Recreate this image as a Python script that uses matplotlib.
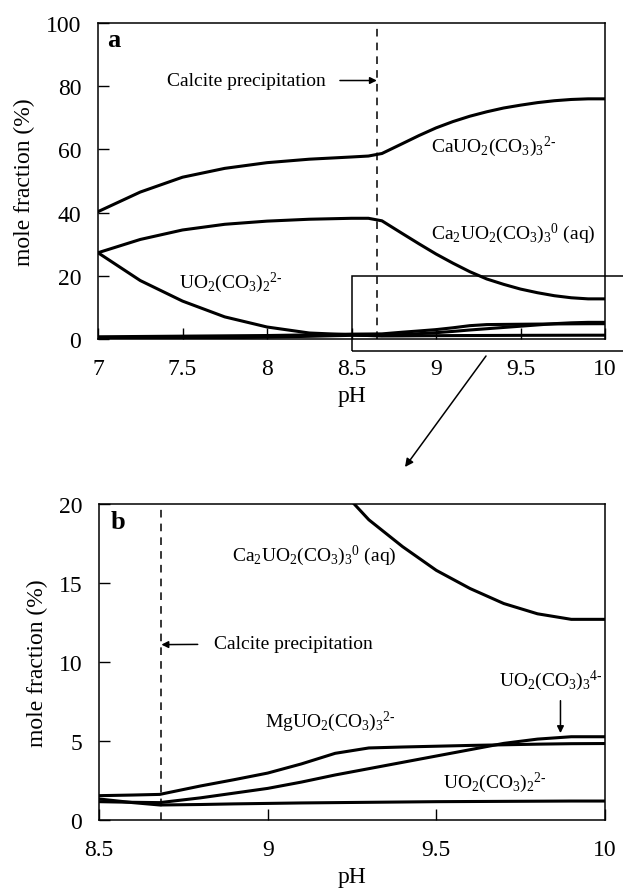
"""
Uranyl carbonate speciation vs pH, two panels:
(a) full 0-100 % view, (b) zoom on the low-fraction species 8.5-10.
"""
import numpy as np
import matplotlib
matplotlib.use("Agg")
import matplotlib.pyplot as plt
from matplotlib.patches import Rectangle

# ---- data ----
ph = [7.0, 7.25, 7.5, 7.75, 8.0, 8.25, 8.5, 8.6, 8.68, 8.8, 8.9,
      9.0, 9.1, 9.2, 9.3, 9.4, 9.5, 9.6, 9.7, 9.8, 9.9, 10.0]
ca_uo2 = [40.3, 46.5, 51.2, 54.0, 55.8, 56.9, 57.6, 57.9, 58.7, 61.8, 64.4,
          66.8, 68.8, 70.5, 71.9, 73.1, 74.0, 74.8, 75.4, 75.8, 76.0, 76.0]
ca2_uo2 = [27.3, 31.5, 34.5, 36.3, 37.3, 37.9, 38.2, 38.2, 37.4, 33.4, 30.1,
           26.9, 24.0, 21.3, 19.0, 17.3, 15.8, 14.65, 13.7, 13.05, 12.7, 12.7]
uo2_co3_2 = [27.3, 18.5, 12.0, 7.0, 3.8, 1.9, 1.33, 1.1, 0.95, 0.98, 1.02,
             1.05, 1.08, 1.1, 1.12, 1.14, 1.16, 1.17, 1.18, 1.19, 1.2, 1.2]
mg_uo2 = [0.7, 0.8, 0.9, 1.0, 1.1, 1.3, 1.54, 1.58, 1.62, 2.15, 2.55,
          2.97, 3.55, 4.22, 4.56, 4.62, 4.67, 4.72, 4.76, 4.8, 4.83, 4.84]
uo2_co3_3 = [0.1, 0.15, 0.25, 0.4, 0.6, 0.85, 1.16, 1.12, 1.1, 1.4, 1.7,
             2.0, 2.4, 2.85, 3.25, 3.65, 4.05, 4.45, 4.85, 5.12, 5.27, 5.27]
series = [ca_uo2, ca2_uo2, uo2_co3_2, mg_uo2, uo2_co3_3]

calcite_a = 8.65
calcite_b = 8.685

plt.rcParams.update({
    "font.family": "Liberation Serif",
    "font.size": 17,
    "mathtext.fontset": "custom",
    "mathtext.rm": "Liberation Serif",
    "mathtext.it": "Liberation Serif:italic",
    "mathtext.bf": "Liberation Serif:bold",
    "axes.linewidth": 1.1,
    "xtick.direction": "in", "ytick.direction": "in",
    "xtick.major.size": 8, "ytick.major.size": 8,
    "xtick.major.width": 1.0, "ytick.major.width": 1.0,
})

LBL = 14
W, H = 623, 895
fig = plt.figure(figsize=(W / 100, H / 100), dpi=100)
ax_a = fig.add_axes([98 / W, 1 - 340 / H, 507 / W, 316 / H])
ax_b = fig.add_axes([99 / W, 1 - 821 / H, 506 / W, 316 / H])

for ax in (ax_a, ax_b):
    for s in series:
        ax.plot(ph, s, color="k", lw=2.2, solid_joinstyle="round")
    ax.set_xlabel("pH", labelpad=4)
    ax.set_ylabel("mole fraction (%)", labelpad=8)
    ax.tick_params(axis="x", pad=14)
    ax.tick_params(axis="y", pad=12)

# ---- panel a ----
ax_a.set_xlim(7, 10)
ax_a.set_ylim(0, 100)
ax_a.set_xticks([7, 7.5, 8, 8.5, 9, 9.5, 10])
ax_a.set_xticklabels(["7", "7.5", "8", "8.5", "9", "9.5", "10"])
ax_a.set_yticks([0, 20, 40, 60, 80, 100])
ax_a.axvline(calcite_a, color="k", lw=1.1, ls=(0, (5, 4)))
ax_a.text(0.018, 0.985, "a", transform=ax_a.transAxes, fontsize=19,
          fontweight="bold", ha="left", va="top")
ax_a.annotate("Calcite precipitation", xy=(calcite_a, 81.8), xytext=(7.41, 81.8),
              fontsize=LBL, va="center", ha="left",
              arrowprops=dict(arrowstyle="-|>", color="k", lw=1.1,
                              shrinkA=8, shrinkB=0, mutation_scale=10))
ax_a.text(8.97, 61, r"CaUO$_2$(CO$_3$)$_3$$^{\mathregular{2\text{-}}}$", fontsize=LBL,
          va="center")
ax_a.text(8.97, 33.6, r"Ca$_2$UO$_2$(CO$_3$)$_3$$^{0}$ (aq)", fontsize=LBL,
          va="center")
ax_a.text(7.48, 18, r"UO$_2$(CO$_3$)$_2$$^{\mathregular{2\text{-}}}$", fontsize=LBL,
          va="center")

# zoom box (runs off the right of the figure)
ax_a.add_patch(Rectangle((8.5, -3.8), 1.8, 23.8, fill=False, lw=1.1,
                         ec="k", clip_on=False, zorder=5))
ax_a.annotate("", xy=(405 / W, 1 - 468 / H), xytext=(486 / W, 1 - 357 / H),
              xycoords="figure fraction", textcoords="figure fraction",
              arrowprops=dict(arrowstyle="-|>", color="k", lw=1.1,
                              shrinkA=0, shrinkB=0, mutation_scale=12))

# ---- panel b ----
ax_b.set_xlim(8.5, 10)
ax_b.set_ylim(0, 20)
ax_b.set_xticks([8.5, 9, 9.5, 10])
ax_b.set_xticklabels(["8.5", "9", "9.5", "10"])
ax_b.set_yticks([0, 5, 10, 15, 20])
ax_b.axvline(calcite_b, color="k", lw=1.1, ls=(0, (5, 4)))
ax_b.text(0.022, 0.98, "b", transform=ax_b.transAxes, fontsize=19,
          fontweight="bold", ha="left", va="top")
ax_b.text(8.893, 16.8, r"Ca$_2$UO$_2$(CO$_3$)$_3$$^{0}$ (aq)", fontsize=LBL,
          va="center")
ax_b.annotate("Calcite precipitation", xy=(calcite_b, 11.1), xytext=(8.842, 11.15),
              fontsize=LBL, va="center", ha="left",
              arrowprops=dict(arrowstyle="-|>", color="k", lw=1.1,
                              shrinkA=10, shrinkB=0, mutation_scale=10))
ax_b.text(9.685, 8.9, r"UO$_2$(CO$_3$)$_3$$^{\mathregular{4\text{-}}}$", fontsize=LBL,
          va="center")
ax_b.annotate("", xy=(9.868, 5.5), xytext=(9.868, 7.55),
              arrowprops=dict(arrowstyle="-|>", color="k", lw=1.1,
                              shrinkA=0, shrinkB=0, mutation_scale=10))
ax_b.text(8.993, 6.26, r"MgUO$_2$(CO$_3$)$_3$$^{\mathregular{2\text{-}}}$", fontsize=LBL,
          va="center")
ax_b.text(9.52, 2.44, r"UO$_2$(CO$_3$)$_2$$^{\mathregular{2\text{-}}}$", fontsize=LBL,
          va="center")

fig.savefig("out.png", dpi=100, facecolor="white")
